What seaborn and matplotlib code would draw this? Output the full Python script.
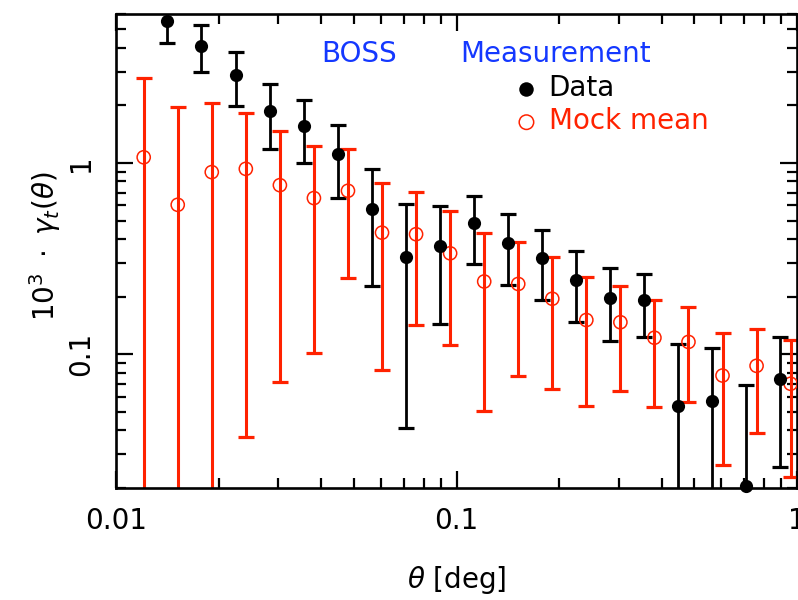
import matplotlib
matplotlib.use("Agg")
import matplotlib.pyplot as plt
import matplotlib.ticker as mticker
import numpy as np
import seaborn as sns

# ---- data ----
theta_data = [0.01416, 0.01782, 0.02244, 0.02825, 0.03556, 0.04477, 0.05636, 0.07096,
              0.08933, 0.1125, 0.1416, 0.1782, 0.2244, 0.2825, 0.3556, 0.4477, 0.5636,
              0.7096, 0.8933]
gamma_data = [5.54, 4.10, 2.89, 1.87, 1.55, 1.11, 0.576, 0.324, 0.370, 0.483, 0.383,
              0.318, 0.245, 0.197, 0.193, 0.0536, 0.0569, 0.0205, 0.0744]
data_hi = [7.0, 5.26, 3.78, 2.58, 2.12, 1.585, 0.927, 0.610, 0.595, 0.673, 0.541,
           0.446, 0.347, 0.282, 0.262, 0.1137, 0.108, 0.0687, 0.1227]
data_lo = [4.22, 2.98, 1.98, 1.18, 1.0, 0.655, 0.228, 0.041, 0.144, 0.297, 0.229,
           0.191, 0.1475, 0.117, 0.123, 0.01, 0.01, 0.01, 0.0259]

theta_mock = [0.01206, 0.01518, 0.01911, 0.02406, 0.03029, 0.03813, 0.04800, 0.06043,
              0.07608, 0.09578, 0.1206, 0.1518, 0.1911, 0.2406, 0.3029, 0.3813, 0.4800,
              0.6043, 0.7608, 0.9578]
gamma_mock = [1.07, 0.604, 0.895, 0.931, 0.765, 0.655, 0.715, 0.432, 0.424, 0.337,
              0.240, 0.233, 0.195, 0.151, 0.147, 0.122, 0.116, 0.0774, 0.087, 0.0701]
mock_hi = [2.79, 1.95, 2.05, 1.82, 1.46, 1.22, 1.18, 0.784, 0.706, 0.562, 0.429,
           0.385, 0.322, 0.252, 0.228, 0.191, 0.176, 0.129, 0.1356, 0.119]
mock_lo = [0.01, 0.01, 0.01, 0.0368, 0.0712, 0.101, 0.249, 0.083, 0.142, 0.112,
           0.0505, 0.0768, 0.0657, 0.0534, 0.0645, 0.053, 0.0562, 0.0264, 0.0386, 0.0227]

x_ticks = [0.01, 0.1, 1]
x_ticklabels = ["0.01", "0.1", "1"]
y_ticks = [0.1, 1]
y_ticklabels = ["0.1", "1"]

RED = "#ff2200"
BLUE = "#1438ff"

sns.set_theme(style="ticks")
plt.rcParams["font.family"] = ["DejaVu Sans"]
plt.rcParams["mathtext.fontset"] = "dejavusans"

fig = plt.figure(figsize=(7.98, 6.0), dpi=100)
ax = fig.add_axes([116 / 798, 1 - 488 / 600, 681 / 798, 474 / 600])
ax.set_xscale("log")
ax.set_yscale("log")

gm = np.array(gamma_mock)
ax.errorbar(theta_mock, gm, yerr=[gm - np.array(mock_lo), np.array(mock_hi) - gm],
            fmt="none", ecolor=RED, elinewidth=2.2, capsize=6, capthick=2.3, zorder=2)
gd = np.array(gamma_data)
ax.errorbar(theta_data, gd, yerr=[gd - np.array(data_lo), np.array(data_hi) - gd],
            fmt="none", ecolor="black", elinewidth=2.0, capsize=6, capthick=2.3, zorder=3)

sns.scatterplot(x=theta_mock, y=gamma_mock, ax=ax, marker="o", s=90,
                facecolor="none", edgecolor=RED, linewidth=1.1, label="Mock mean", zorder=4)
sns.scatterplot(x=theta_data, y=gamma_data, ax=ax, marker="o", s=90,
                color="black", linewidth=0, label="Data", zorder=5, clip_on=False)

ax.set_xlim(0.01, 1)
ax.set_ylim(0.02, 6.0)

ax.set_xticks(x_ticks, labels=x_ticklabels)
ax.set_yticks(y_ticks, labels=y_ticklabels)
ax.xaxis.set_minor_formatter(mticker.NullFormatter())
ax.yaxis.set_minor_formatter(mticker.NullFormatter())

ax.tick_params(which="both", direction="in", top=True, right=True, color="black",
               width=1.6, labelsize=20, labelcolor="black")
ax.tick_params(which="major", length=12)
ax.tick_params(which="minor", length=7)
ax.tick_params(axis="x", pad=14)
ax.tick_params(axis="y", pad=15, labelrotation=90)
for lab in ax.get_yticklabels():
    lab.set_va("center")
for sp in ax.spines.values():
    sp.set_linewidth(1.9)
    sp.set_color("black")

ax.set_xlabel(r"$\theta$ [deg]", fontsize=20, color="black")
ax.xaxis.set_label_coords(0.5, -0.16)
ax.set_ylabel(r"$10^3\ \cdot\ \gamma_t(\theta)$", fontsize=20, color="black")
ax.yaxis.set_label_coords(-0.078, 0.51)

ax.text(0.301, 0.899, "BOSS", transform=ax.transAxes, color=BLUE, fontsize=20,
        ha="left", va="baseline")
ax.text(0.505, 0.899, "Measurement", transform=ax.transAxes, color=BLUE, fontsize=20,
        ha="left", va="baseline")

handles, labels = ax.get_legend_handles_labels()
order = [labels.index("Data"), labels.index("Mock mean")]
ax.legend([handles[i] for i in order], [labels[i] for i in order],
          loc="upper left", bbox_to_anchor=(0.566, 0.897), borderaxespad=0,
          frameon=False, fontsize=20, handlelength=1.0, handletextpad=0.3,
          labelspacing=0.2, markerscale=1.1, labelcolor=["black", RED])

fig.savefig("out.png", dpi=100)
